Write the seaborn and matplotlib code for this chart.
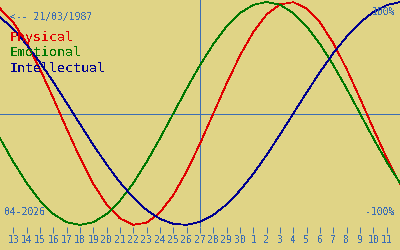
import matplotlib
matplotlib.use("Agg")
import matplotlib.pyplot as plt
import seaborn as sns
import pandas as pd

# Days shown (April 12 .. May 12, 2026), index counted from 1 April
days = list(range(12, 43))
tick_days = list(range(13, 42))
tick_labels = [str(d) for d in range(13, 31)] + [str(d) for d in range(1, 12)]

physical = [0.942, 0.817, 0.631, 0.398, 0.136, -0.136, -0.398, -0.631, -0.817, -0.942,
            -0.998, -0.979, -0.888, -0.731, -0.520, -0.270, 0.0, 0.270, 0.520, 0.731,
            0.888, 0.979, 0.998, 0.942, 0.817, 0.631, 0.398, 0.136, -0.136, -0.398, -0.631]
emotional = [-0.223, -0.434, -0.623, -0.782, -0.901, -0.975, -1.0, -0.975, -0.901, -0.782,
             -0.623, -0.434, -0.223, 0.0, 0.223, 0.434, 0.623, 0.782, 0.901, 0.975,
             1.0, 0.975, 0.901, 0.782, 0.623, 0.434, 0.223, 0.0, -0.223, -0.434, -0.623]
intellectual = [0.866, 0.756, 0.618, 0.458, 0.282, 0.095, -0.095, -0.282, -0.458, -0.618,
                -0.756, -0.866, -0.945, -0.990, -0.999, -0.972, -0.910, -0.815, -0.690, -0.541,
                -0.372, -0.189, 0.0, 0.189, 0.372, 0.541, 0.690, 0.815, 0.910, 0.972, 0.999]
series_names = ["Physical", "Emotional", "Intellectual"]
today = 27

BG = "#E0D486"
TXT = "#3C6EB4"
colors = {"Physical": "#E00000", "Emotional": "#007800", "Intellectual": "#000090"}

df = pd.DataFrame({
    "day": days * 3,
    "value": physical + emotional + intellectual,
    "series": [s for s in series_names for _ in days],
})

plt.rcParams["text.antialiased"] = False
fig = plt.figure(figsize=(4, 2.5), dpi=100, facecolor=BG)
ax = fig.add_axes([0, 23 / 250, 1, 227 / 250])
ax.set_facecolor(BG)

LW = 0.7
ax.axhline(0, color=TXT, lw=LW, antialiased=False, zorder=1)
ax.axvline(today, color=TXT, lw=LW, antialiased=False, zorder=1)

sns.lineplot(data=df, x="day", y="value", hue="series", palette=colors,
             linewidth=0.55, legend=False, ax=ax, antialiased=False, zorder=2)

ax.set_xlim(12, 42)
ax.set_ylim(-1.018, 1.018)
ax.set_xticks(tick_days)
ax.set_xticklabels(tick_labels, family="DejaVu Sans Mono", fontsize=7, color=TXT)
ax.tick_params(axis="x", direction="out", length=4, width=LW, color=TXT, pad=1.5)
ax.set_yticks([])
ax.set_xlabel("")
ax.set_ylabel("")
for s in ax.spines.values():
    s.set_visible(False)

mono = "DejaVu Sans Mono"
def ftext(x, y, s, **kw):
    fig.text(x / 400, 1 - y / 250, s, family=mono, va="center", **kw)

ftext(10, 17, "<-- 21/03/1987", fontsize=7, color=TXT, ha="left")
ftext(10, 38, "Physical", fontsize=9.5, color=colors["Physical"], ha="left")
ftext(10, 53, "Emotional", fontsize=9.5, color=colors["Emotional"], ha="left")
ftext(10, 68, "Intellectual", fontsize=9.5, color=colors["Intellectual"], ha="left")
ftext(395, 12, "100%", fontsize=7, color=TXT, ha="right")
ftext(395, 212, "-100%", fontsize=7, color=TXT, ha="right")
ftext(4, 212, "04-2026", fontsize=7, color=TXT, ha="left")

fig.savefig("out.png", dpi=100, facecolor=BG)
